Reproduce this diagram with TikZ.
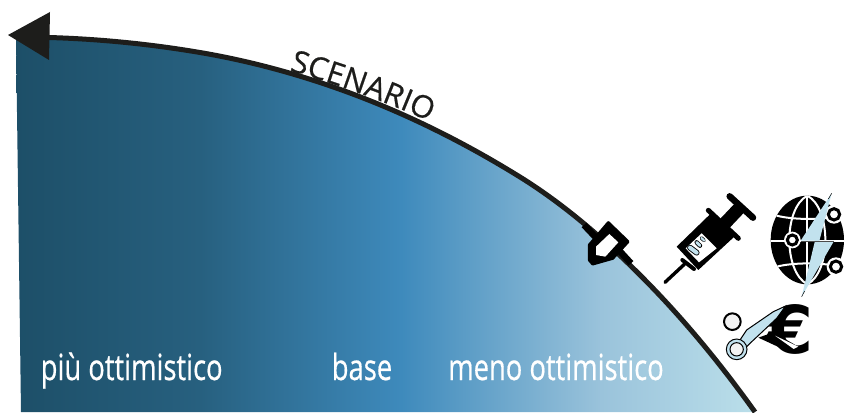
\documentclass[tikz,border=0pt]{standalone}
\usepackage{fontspec}
\setmainfont{Open Sans}
\newfontfamily\labfont[FakeBold=0.6]{Open Sans}
\newfontfamily\arcfont[FakeBold=0.5]{Open Sans}
\newfontfamily\eurofont{DejaVu Sans}
\usetikzlibrary{decorations.text}
\definecolor{ink}{HTML}{1D1D1B}
\definecolor{bluea}{HTML}{1D4F68}
\definecolor{blueab}{HTML}{27607F}
\definecolor{blueb}{HTML}{3E8ABC}
\definecolor{bluebc}{HTML}{9AC3DB}
\definecolor{bluec}{HTML}{BBDFEA}
\definecolor{paleblue}{HTML}{C2E2EE}
\pgfdeclarehorizontalshading{scen}{100bp}{color(0bp)=(bluea); color(25bp)=(bluea); color(37.4bp)=(blueab); color(51bp)=(blueb); color(64.5bp)=(bluebc); color(75bp)=(bluec); color(100bp)=(bluec)}
\def\curvepath{(16,37) .. controls (77.3,37) and (138.7,42.1) .. (200,52.5)
  .. controls (250,61) and (300,74.5) .. (350,93)
  .. controls (406.67,114) and (463.33,141.9) .. (520,177)
  .. controls (560,201.8) and (600,235) .. (640,275)
  .. controls (678.33,313.33) and (716.67,358.33) .. (755,412)}
\tikzset{
  lab/.style={text=white,font=\labfont\fontsize{36}{38}\selectfont,inner sep=0pt,anchor=base,xscale=.76},
  zoomed/.style={x=.3333pt,y=-.3333pt},
}
\begin{document}
\begin{tikzpicture}[x=1pt,y=-1pt]
\useasboundingbox (0,0) rectangle (856,412);
% gradient area
\begin{scope}
\clip \curvepath -- (21,412) -- cycle;
\node[inner sep=0pt,minimum width=740pt,minimum height=380pt,anchor=north west,shading=scen,shading angle=0] (area) at (16,34) {};
\end{scope}
% curve
\draw[ink,line width=5pt] \curvepath;
\fill[ink] (8,35) -- (50,12) -- (49,60) -- cycle;
% SCENARIO
\path[decorate,decoration={text along path,raise=2.5pt,text align={center},
  text={|\arcfont\fontsize{31}{33}\selectfont\color{ink}|SCENARIO}}]
  (274,69) .. controls (329,84) and (389,105) .. (442,130);
% labels
\node[lab] (ott) at (131.7,380) {più ottimistico};
\node[lab] (bas) at (362,380) {base};
\node[lab] (men) at (556,380) {meno ottimistico};
% holder
\begin{scope}[shift={(570,210)},zoomed]
  \draw[black,line width=6.5pt] (42,45) -- (78,83);
  \draw[black,line width=6.5pt] (148,122) -- (183,160);
  \fill[black,line join=round,draw=black,line width=3pt]
    (115,38) -- (174,95) -- (128,145) -- (68,162) -- (58,150) -- (58,105) -- cycle;
  \fill[white] (118,72) -- (145,97) -- (106,140) -- (78,135) -- (78,110) -- cycle;
\end{scope}
% syringe
\begin{scope}[shift={(655,185)},zoomed]
  \draw[black,line width=3.4pt,line cap=round] (30,292) -- (88,238);
  \draw[black,line width=6.5pt,line cap=round] (224,34) -- (294,98);
  \draw[black,line width=5pt,line cap=round] (160,76) -- (250,160);
  \draw[black,line width=13pt] (205,120) -- (258,64);
  \fill[black] (65,185) -- (165,88) -- (238,155) -- (130,255) -- cycle;
  \draw[black,line width=4pt,line cap=round] (82,225) -- (117,252);
  \fill[white] (92,190) -- (140,145) -- (185,190) -- (132,232) -- cycle;
  \draw[black,line width=5.8pt,line cap=round] (105,188) -- (125,203);
  \draw[paleblue,line width=4pt,line cap=round] (105,188) -- (125,203);
  \draw[black,line width=4.4pt,line cap=round] (125,172) -- (135,182);
  \draw[paleblue,line width=2.8pt,line cap=round] (125,172) -- (135,182);
  \draw[black,line width=3.6pt,line cap=round] (139,159) -- (147,166);
  \draw[paleblue,line width=2.2pt,line cap=round] (139,159) -- (147,166);
\end{scope}
% globe
\begin{scope}[shift={(760,185)},zoomed]
  \fill[black] (142,165) ellipse [x radius=110,y radius=133];
  \begin{scope}
    \clip (142,165) ellipse [x radius=110,y radius=133];
    \draw[white,line width=2pt] (20,168) -- (265,168);
    \draw[white,line width=2pt] (142,30) -- (142,300);
    \draw[white,line width=2pt] (142,32) .. controls (70,70) and (70,260) .. (142,298);
    \draw[white,line width=2pt] (142,32) .. controls (214,70) and (214,260) .. (142,298);
    \draw[white,line width=2pt] (50,92) .. controls (100,105) and (190,105) .. (235,92);
    \draw[white,line width=2pt] (50,245) .. controls (100,232) and (190,232) .. (235,245);
  \end{scope}
  \fill[white] (97,165) circle (25);
  \fill[white] (222,88) circle (28);
  \fill[white] (228,245) circle (28);
  \draw[black,line width=3pt,fill=white] (97,165) circle (15);
  \draw[black,line width=3pt,fill=white] (222,88) circle (17);
  \draw[black,line width=3pt,fill=white] (228,245) circle (17);
  \fill[paleblue] (215,25) -- (122,167) -- (165,167) -- (125,335) -- (222,168) -- (178,168) -- cycle;
  \draw[black,line width=.5pt] (215,25) -- (205,42);
  \draw[black,line width=.5pt] (125,335) -- (134,318);
  \draw[black!70,line width=.8pt] (122,168) -- (222,168);
\end{scope}
% euro + scissors
\node[font=\eurofont\bfseries\fontsize{66}{66}\selectfont,inner sep=0pt,text=black] (euro) at (790,329) {€};
\begin{scope}[shift={(715,295)},zoomed]
  \draw[black,line width=2pt,fill=white!95!black] (52,80) circle (25);
  \fill[black] (130,128) -- (175,112) -- (250,155) -- (240,172) -- (210,165) -- cycle;
  \fill[white] (180,122) -- (250,155) -- (236,162) -- cycle;
  \draw[black,line width=1pt,fill=paleblue] (75,135) -- (95,105) -- (175,50) -- (212,33) -- (185,70) -- (105,145) -- (90,160) -- cycle;
  \draw[black,line width=1pt,fill=paleblue] (65,163) circle (31);
  \draw[black,line width=1pt,fill=white!95!black] (65,163) circle (20);
\end{scope}
\end{tikzpicture}
\end{document}
